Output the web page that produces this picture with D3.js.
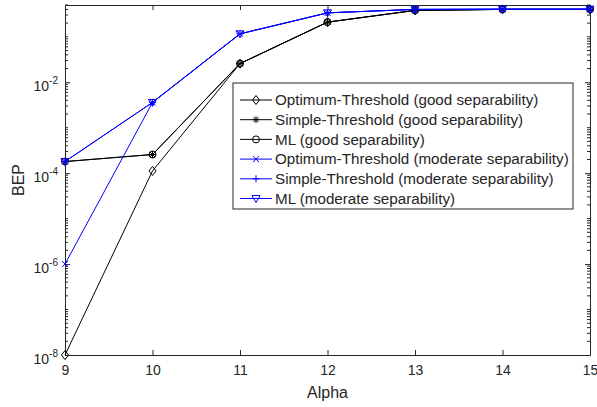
<!DOCTYPE html>
<html><head><meta charset="utf-8">
<script src="https://cdn.jsdelivr.net/npm/d3@7"></script>
<style>
body{margin:0;background:#fff;}
text{font-family:"Liberation Sans",Arial,Helvetica,sans-serif;fill:#262626;}
</style></head>
<body><svg id="c" width="597" height="407"></svg>
<script>
const alpha = [9, 10, 11, 12, 13, 14, 15];
const optGood = [1e-8, 1.12e-4, 0.0257, 0.21, 0.38, 0.40, 0.40];
const simpleGood = [1.8e-4, 2.57e-4, 0.0257, 0.21, 0.38, 0.40, 0.40];
const mlGood = [1.8e-4, 2.57e-4, 0.0257, 0.21, 0.38, 0.40, 0.40];
const optMod = [1e-6, 3.6e-3, 0.116, 0.336, 0.40, 0.405, 0.405];
const simpleMod = [1.8e-4, 3.6e-3, 0.116, 0.336, 0.40, 0.405, 0.405];
const mlMod = [1.8e-4, 3.6e-3, 0.116, 0.336, 0.40, 0.405, 0.405];
const seriesNames = [
  "Optimum-Threshold (good separability)",
  "Simple-Threshold (good separability)",
  "ML (good separability)",
  "Optimum-Threshold (moderate separability)",
  "Simple-Threshold (moderate separability)",
  "ML (moderate separability)"
];
const xTicks = [9, 10, 11, 12, 13, 14, 15];
const yTickExps = [-8, -6, -4, -2];
const xLabel = "Alpha";
const yLabel = "BEP";

const series = [
  {name: seriesNames[0], values: optGood, color: "#000", marker: "diamond"},
  {name: seriesNames[1], values: simpleGood, color: "#000", marker: "asterisk"},
  {name: seriesNames[2], values: mlGood, color: "#000", marker: "circle"},
  {name: seriesNames[3], values: optMod, color: "#0000ff", marker: "x"},
  {name: seriesNames[4], values: simpleMod, color: "#0000ff", marker: "plus"},
  {name: seriesNames[5], values: mlMod, color: "#0000ff", marker: "tridown"}
];

const L = 65, R = 590, T = 5, B = 355;
const svg = d3.select("#c");
const x = d3.scaleLinear().domain([9, 15]).range([L, R]);
const y = d3.scaleLog().domain([1e-8, 0.5]).range([B, T]);
const axisColor = "#262626";

svg.append("rect").attr("x", L).attr("y", T).attr("width", R - L).attr("height", B - T)
  .attr("fill", "#fff");

const gB = svg.append("g").attr("transform", `translate(0,${B})`)
  .call(d3.axisBottom(x).tickValues(xTicks).tickFormat(d3.format("d")).tickSizeInner(-5).tickSizeOuter(0).tickPadding(10));
const gT = svg.append("g").attr("transform", `translate(0,${T})`)
  .call(d3.axisTop(x).tickValues(xTicks).tickFormat("").tickSizeInner(-5).tickSizeOuter(0));
const majorVals = yTickExps.map(e => Math.pow(10, e));
const gL = svg.append("g").attr("transform", `translate(${L},0)`)
  .call(d3.axisLeft(y).tickValues(majorVals).tickFormat("").tickSizeInner(-5).tickSizeOuter(0));
const gR = svg.append("g").attr("transform", `translate(${R},0)`)
  .call(d3.axisRight(y).tickValues(majorVals).tickFormat("").tickSizeInner(-5).tickSizeOuter(0));
[gB, gT, gL, gR].forEach(g => {
  g.selectAll("path.domain").attr("stroke", axisColor).attr("stroke-width", 1);
  g.selectAll(".tick line").attr("stroke", axisColor);
});
gB.selectAll("text").attr("font-size", 14).style("font-family", "Liberation Sans, Arial, sans-serif").attr("fill", axisColor);

const minorVals = [];
for (let e = -8; e <= 0; e++) {
  for (let m = 1; m <= 9; m++) {
    const v = m * Math.pow(10, e);
    if (v >= 1e-8 && v <= 0.5 && !(m === 1 && yTickExps.includes(e))) minorVals.push(v);
  }
}
[[L, 1], [R, -1]].forEach(([px, dir]) => {
  svg.append("g").selectAll("line").data(minorVals).join("line")
    .attr("x1", px).attr("x2", px + dir * 3)
    .attr("y1", d => y(d)).attr("y2", d => y(d))
    .attr("stroke", axisColor).attr("stroke-width", 1);
});

const yl = svg.append("g");
yTickExps.forEach(e => {
  const t = yl.append("text").attr("x", L - 7).attr("y", y(Math.pow(10, e)) + 9)
    .attr("text-anchor", "end").attr("font-size", 14);
  t.append("tspan").text("10");
  t.append("tspan").attr("dy", -7).attr("font-size", 10).text(String(e));
});

svg.append("text").attr("x", (L + R) / 2).attr("y", 398).attr("text-anchor", "middle")
  .attr("font-size", 16).text(xLabel);
svg.append("text").attr("transform", `translate(24,${(T + B) / 2}) rotate(-90)`)
  .attr("text-anchor", "middle").attr("font-size", 16).text(yLabel);

function drawMarker(g, kind, cx, cy, color) {
  const s = g.append("path").attr("transform", `translate(${cx},${cy})`)
    .attr("fill", "none").attr("stroke", color).attr("stroke-width", 1);
  let d = "";
  if (kind === "diamond") d = "M0,-4.5L3.5,0L0,4.5L-3.5,0Z";
  else if (kind === "circle") d = "M3.5,0A3.5,3.5 0 1,1 -3.5,0A3.5,3.5 0 1,1 3.5,0Z";
  else if (kind === "x") d = "M-3,-3L3,3M-3,3L3,-3";
  else if (kind === "plus") d = "M-3.5,0L3.5,0M0,-3.5L0,3.5";
  else if (kind === "asterisk") d = "M-3.5,0L3.5,0M0,-3.5L0,3.5M-2.5,-2.5L2.5,2.5M-2.5,2.5L2.5,-2.5";
  else if (kind === "tridown") d = "M-4,-3L4,-3L0,4Z";
  s.attr("d", d);
}

const line = d3.line().x((d, i) => x(alpha[i])).y(d => y(d));
const plot = svg.append("g");
series.forEach(sr => {
  plot.append("path").attr("d", line(sr.values)).attr("fill", "none")
    .attr("stroke", sr.color).attr("stroke-width", 1);
  sr.values.forEach((v, i) => drawMarker(plot, sr.marker, x(alpha[i]), y(v), sr.color));
});

const lg = svg.append("g");
const lx0 = 233, ly0 = 83, lw = 340, lh = 126;
lg.append("rect").attr("x", lx0).attr("y", ly0).attr("width", lw).attr("height", lh)
  .attr("fill", "#fff").attr("stroke", axisColor).attr("stroke-width", 1);
series.forEach((sr, i) => {
  const cy = 100 + i * 19.7;
  lg.append("line").attr("x1", 240).attr("x2", 272).attr("y1", cy).attr("y2", cy)
    .attr("stroke", sr.color).attr("stroke-width", 1);
  drawMarker(lg, sr.marker, 256, cy, sr.color);
  lg.append("text").attr("x", 275).attr("y", cy + 5.3).attr("font-size", 15.2)
    .attr("fill", "#000").text(sr.name);
});
</script></body></html>
